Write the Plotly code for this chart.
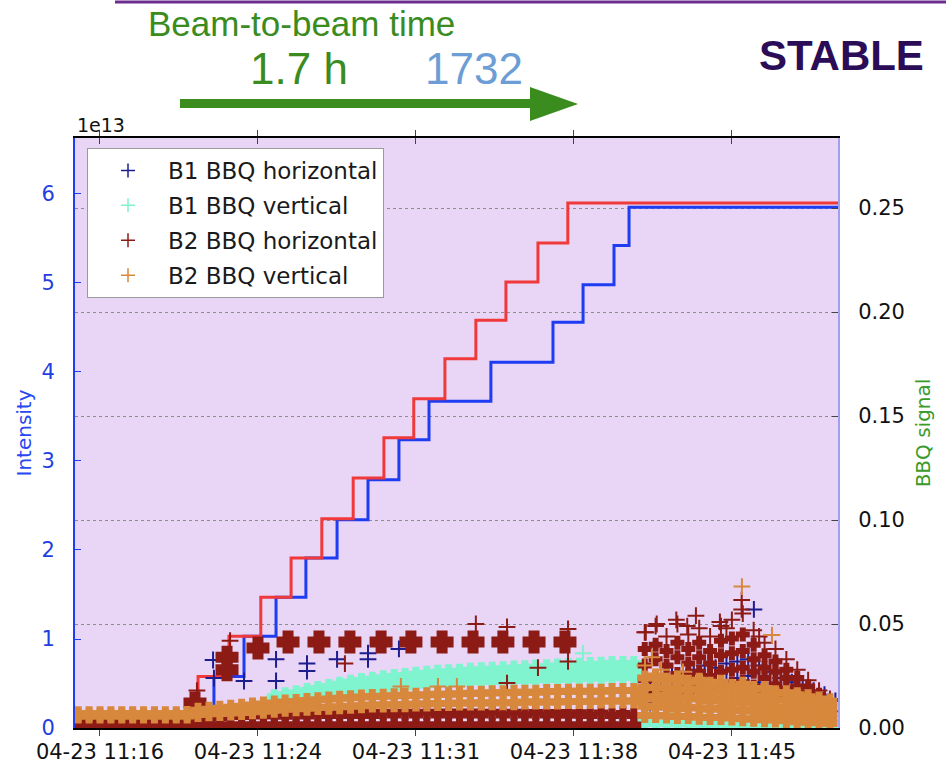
import pandas as pd
import plotly.graph_objects as go

BASE = pd.Timestamp("2016-04-23 11:00:00")


def T(minutes):
    """minutes after 11:00 -> timestamps"""
    return [BASE + pd.Timedelta(minutes=m) for m in minutes]


# ---------------- beam intensity (units of 1e13 protons) ----------------
b2_int_min = [15.60, 21.25, 22.67, 24.13, 25.52, 26.93, 28.37, 29.78, 31.15, 32.58,
              34.00, 35.38, 36.85, 38.22, 50.62]
b2_int_val = [0.00, 0.58, 1.03, 1.47, 1.91, 2.35, 2.81, 3.26, 3.70, 4.15,
              4.58, 5.01, 5.45, 5.90, 5.90]
b1_int_min = [15.60, 21.98, 23.36, 24.83, 26.20, 27.63, 29.05, 30.47, 31.85, 34.69,
              37.54, 38.92, 40.34, 41.03, 50.62]
b1_int_val = [0.00, 0.58, 1.03, 1.47, 1.91, 2.34, 2.79, 3.24, 3.67, 4.11,
              4.56, 4.98, 5.42, 5.85, 5.85]

# ---------------- BBQ signal: sampling grid (minutes after 11:00) ----------------
G = [15.75, 16.25, 16.75, 17.25, 17.75, 18.25, 18.75, 19.25, 19.75, 20.25,
     20.75, 21.25, 21.75, 22.25, 22.75, 23.25, 23.75, 24.25, 24.75, 25.25,
     25.75, 26.25, 26.75, 27.25, 27.75, 28.25, 28.75, 29.25, 29.75, 30.25,
     30.75, 31.25, 31.75, 32.25, 32.75, 33.25, 33.75, 34.25, 34.75, 35.25,
     35.75, 36.25, 36.75, 37.25, 37.75, 38.25, 38.75, 39.25, 39.75, 40.25,
     40.75, 41.25, 41.75, 42.25, 42.75, 43.25, 43.75, 44.25, 44.75, 45.25,
     45.75, 46.25, 46.75, 47.25, 47.75, 48.25, 48.75, 49.25, 49.75, 50.25]
G_BEFORE = G[:52]
G_AQUA = G[18:52]
G_AQUA_MID = G[24:52]
G_AFTER = G[52:]

# B2 BBQ vertical (orange)
b2v_lo = [0.0058, 0.0058, 0.0058, 0.0058, 0.0058, 0.0058, 0.0058, 0.0058, 0.0058, 0.0058,
          0.0058, 0.0065, 0.0068, 0.0070, 0.0072, 0.0075, 0.0078, 0.0080, 0.0085, 0.0090,
          0.0092, 0.0095, 0.0098, 0.0100, 0.0102, 0.0105, 0.0107, 0.0110, 0.0110, 0.0112,
          0.0112, 0.0115, 0.0115, 0.0118, 0.0118, 0.0120, 0.0120, 0.0120, 0.0122, 0.0122,
          0.0122, 0.0125, 0.0125, 0.0125, 0.0125, 0.0128, 0.0128, 0.0128, 0.0130, 0.0130,
          0.0130, 0.0130, 0.0060, 0.0060, 0.0058, 0.0055, 0.0055, 0.0052, 0.0050, 0.0050,
          0.0048, 0.0045, 0.0042, 0.0040, 0.0038, 0.0035, 0.0030, 0.0028, 0.0025, 0.0022]
b2v_hi = [0.0068, 0.0068, 0.0068, 0.0068, 0.0068, 0.0068, 0.0068, 0.0068, 0.0068, 0.0068,
          0.0070, 0.0085, 0.0090, 0.0095, 0.0100, 0.0105, 0.0110, 0.0115, 0.0120, 0.0125,
          0.0128, 0.0132, 0.0136, 0.0140, 0.0143, 0.0146, 0.0149, 0.0151, 0.0153, 0.0155,
          0.0157, 0.0158, 0.0160, 0.0162, 0.0162, 0.0165, 0.0167, 0.0167, 0.0170, 0.0170,
          0.0172, 0.0172, 0.0172, 0.0175, 0.0175, 0.0177, 0.0177, 0.0177, 0.0177, 0.0180,
          0.0180, 0.0180, 0.0240, 0.0250, 0.0230, 0.0240, 0.0220, 0.0230, 0.0210, 0.0220,
          0.0200, 0.0210, 0.0190, 0.0190, 0.0170, 0.0170, 0.0160, 0.0150, 0.0140, 0.0130]
b2v_after_a = [0.0195, 0.0195, 0.0195, 0.0185, 0.0185, 0.0185, 0.0170, 0.0180, 0.0160,
               0.0170, 0.0155, 0.0150, 0.0135, 0.0135, 0.0125, 0.0120, 0.0110, 0.0100]
b2v_after_b = [0.0150, 0.0140, 0.0160, 0.0130, 0.0150, 0.0140, 0.0130, 0.0140, 0.0120,
               0.0130, 0.0120, 0.0110, 0.0100, 0.0100, 0.0090, 0.0090, 0.0080, 0.0070]
b2v_after_c = [0.0105, 0.0100, 0.0110, 0.0092, 0.0100, 0.0096, 0.0090, 0.0095, 0.0084,
               0.0088, 0.0081, 0.0075, 0.0069, 0.0068, 0.0060, 0.0059, 0.0052, 0.0046]
b2v_pts_min = [30.56, 32.26, 33.13, 41.76, 42.08, 42.50, 43.50, 46.21, 47.59]
b2v_pts_val = [0.020, 0.020, 0.020, 0.030, 0.034, 0.028, 0.027, 0.068, 0.0447]

# B1 BBQ vertical (aquamarine)
b1v_lo = [0.0140, 0.0145, 0.0150, 0.0155, 0.0160, 0.0165, 0.0170, 0.0175, 0.0180, 0.0185,
          0.0190, 0.0195, 0.0200, 0.0205, 0.0210, 0.0213, 0.0216, 0.0220, 0.0222, 0.0224,
          0.0225, 0.0227, 0.0228, 0.0230, 0.0232, 0.0234, 0.0235, 0.0236, 0.0238, 0.0240,
          0.0241, 0.0242, 0.0243, 0.0244]
b1v_hi = [0.0150, 0.0160, 0.0170, 0.0180, 0.0190, 0.0200, 0.0210, 0.0220, 0.0228, 0.0235,
          0.0242, 0.0248, 0.0253, 0.0258, 0.0263, 0.0268, 0.0270, 0.0273, 0.0278, 0.0280,
          0.0283, 0.0285, 0.0288, 0.0290, 0.0293, 0.0295, 0.0298, 0.0300, 0.0302, 0.0305,
          0.0307, 0.0310, 0.0310, 0.0310]
b1v_mid = [0.0185, 0.0192, 0.0200, 0.0207, 0.0214, 0.0220, 0.0226, 0.0231, 0.0236, 0.0240,
           0.0243, 0.0246, 0.0250, 0.0252, 0.0254, 0.0256, 0.0258, 0.0260, 0.0262, 0.0264,
           0.0266, 0.0268, 0.0270, 0.0271, 0.0272, 0.0274, 0.0276, 0.0277]
b1v_after_lo = [0.0022, 0.0022, 0.0020, 0.0020, 0.0020, 0.0018, 0.0018, 0.0018, 0.0016,
                0.0016, 0.0015, 0.0015, 0.0014, 0.0014, 0.0013, 0.0013, 0.0012, 0.0012]
b1v_after_hi = [0.0055, 0.0060, 0.0058, 0.0055, 0.0052, 0.0050, 0.0048, 0.0046, 0.0044,
                0.0042, 0.0040, 0.0037, 0.0034, 0.0032, 0.0030, 0.0028, 0.0026, 0.0024]
b1v_pts_min = [38.92]
b1v_pts_val = [0.036]

# B2 BBQ horizontal (dark red)
b2h_base_lo = [0.0015, 0.0015, 0.0015, 0.0015, 0.0015, 0.0015, 0.0015, 0.0015, 0.0015, 0.0015,
               0.0015, 0.0015, 0.0015, 0.0015, 0.0015, 0.0015, 0.0015, 0.0015, 0.0015, 0.0015,
               0.0015, 0.0015, 0.0015, 0.0015, 0.0015, 0.0015, 0.0015, 0.0015, 0.0015, 0.0015,
               0.0015, 0.0015, 0.0015, 0.0015, 0.0015, 0.0015, 0.0015, 0.0015, 0.0015, 0.0015,
               0.0015, 0.0015, 0.0015, 0.0015, 0.0015, 0.0015, 0.0015, 0.0015, 0.0015, 0.0015,
               0.0015, 0.0015]
b2h_base_hi = [0.0030, 0.0030, 0.0030, 0.0030, 0.0030, 0.0030, 0.0030, 0.0030, 0.0030, 0.0030,
               0.0030, 0.0045, 0.0060, 0.0050, 0.0062, 0.0055, 0.0065, 0.0058, 0.0066, 0.0056,
               0.0068, 0.0058, 0.0070, 0.0060, 0.0072, 0.0060, 0.0074, 0.0060, 0.0075, 0.0062,
               0.0076, 0.0062, 0.0076, 0.0062, 0.0077, 0.0063, 0.0077, 0.0063, 0.0076, 0.0062,
               0.0076, 0.0062, 0.0075, 0.0062, 0.0074, 0.0061, 0.0073, 0.0060, 0.0072, 0.0060,
               0.0070, 0.0060]
b2h_after_1 = [0.046, 0.049, 0.044, 0.050, 0.045, 0.048, 0.044, 0.049, 0.052,
               0.055, 0.047, 0.041, 0.038, 0.033, 0.028, 0.023, 0.018, 0.014]
b2h_after_2 = [0.038, 0.040, 0.037, 0.041, 0.038, 0.041, 0.037, 0.042, 0.043,
               0.045, 0.040, 0.035, 0.032, 0.028, 0.024, 0.020, 0.016, 0.012]
b2h_after_3 = [0.030, 0.033, 0.030, 0.034, 0.031, 0.034, 0.031, 0.035, 0.036,
               0.037, 0.033, 0.029, 0.027, 0.024, 0.020, 0.017, 0.014, 0.011]
b2h_after_4 = [0.023, 0.025, 0.024, 0.026, 0.025, 0.027, 0.025, 0.027, 0.028,
               0.029, 0.027, 0.024, 0.021, 0.019, 0.016, 0.013, 0.011, 0.009]
b2h_after_5 = [0.016, 0.018, 0.017, 0.019, 0.018, 0.020, 0.018, 0.020, 0.021,
               0.022, 0.020, 0.018, 0.016, 0.014, 0.012, 0.010, 0.009, 0.008]
b2h_burst_min = [21.11, 22.58, 22.58, 24.00, 25.38, 26.80, 28.22, 29.65, 31.02, 32.45,
                 33.87, 35.24, 36.67, 38.09]
b2h_burst_val = [0.012, 0.028, 0.034, 0.0385, 0.0413, 0.0413, 0.0413, 0.0413, 0.0413, 0.0413,
                 0.0413, 0.0413, 0.0413, 0.0413]
b2h_pts_min = [21.20, 22.72, 27.99, 34.00, 35.43, 35.43, 36.85, 38.23, 38.23, 41.80,
               42.30, 43.20, 43.70, 44.10, 45.20, 45.50, 46.20, 46.20, 47.00]
b2h_pts_val = [0.018, 0.042, 0.031, 0.050, 0.0486, 0.0216, 0.029, 0.0476, 0.032, 0.046,
               0.050, 0.052, 0.049, 0.054, 0.051, 0.048, 0.057, 0.0615, 0.044]

# B1 BBQ horizontal (navy)
b1h_pts_min = [21.94, 21.98, 23.36, 24.83, 24.83, 26.25, 26.25, 27.63, 29.05, 29.05,
               30.47, 46.76]
b1h_pts_val = [0.0327, 0.024, 0.0226, 0.033, 0.0226, 0.031, 0.0274, 0.033, 0.036, 0.033,
               0.038, 0.057]
b1h_cloud_min = [42.0, 42.5, 43.0, 43.5, 44.0, 44.5, 45.0, 45.5, 46.0, 46.5,
                 47.0, 47.5, 48.0, 48.5, 49.0, 49.5, 50.0, 50.5]
b1h_cloud_a = [0.022, 0.024, 0.025, 0.027, 0.028, 0.030, 0.029, 0.031, 0.032,
               0.033, 0.030, 0.027, 0.024, 0.022, 0.020, 0.018, 0.016, 0.013]
b1h_cloud_b = [0.012, 0.014, 0.016, 0.018, 0.020, 0.022, 0.021, 0.023, 0.024,
               0.025, 0.022, 0.020, 0.018, 0.016, 0.014, 0.012, 0.010, 0.008]

tick_min = [16.75, 24.0, 31.25, 38.5, 45.75]
tick_labels = ["04-23 11:16", "04-23 11:24", "04-23 11:31", "04-23 11:38", "04-23 11:45"]
bbq_ticks = [0.0, 0.05, 0.10, 0.15, 0.20, 0.25]
int_ticks = [0, 1, 2, 3, 4, 5, 6]

series_names = ["B1 BBQ horizontal", "B1 BBQ vertical", "B2 BBQ horizontal", "B2 BBQ vertical"]
series_colors = ["#1d1d8e", "#80f3cf", "#8d1b15", "#d8883c"]

# ---------------- assembly ----------------
STYLE = {"band": ("cross", 10, 3), "dense": ("cross", 10, 2),
         "pt": ("cross-thin", 12, 2), "burst": ("cross", 15, 5)}


def build(parts):
    xs, ys, sy, sz, lw = [], [], [], [], []
    for mins, vals, kind in parts:
        s, z, w = STYLE[kind]
        for m, v in zip(mins, vals):
            xs.append(m)
            ys.append(v)
            sy.append(s)
            sz.append(z)
            lw.append(w)
    return T(xs), ys, sy, sz, lw


series_parts = [
    [(b1h_cloud_min, b1h_cloud_a, "pt"), (b1h_cloud_min, b1h_cloud_b, "pt"),
     (b1h_pts_min, b1h_pts_val, "pt")],
    [(G_AQUA, b1v_lo, "band"), (G_AQUA, b1v_hi, "band"), (G_AQUA_MID, b1v_mid, "band"),
     (G_AFTER, b1v_after_lo, "band"), (G_AFTER, b1v_after_hi, "band"),
     (b1v_pts_min, b1v_pts_val, "pt")],
    [(G_BEFORE, b2h_base_lo, "band"), (G_BEFORE, b2h_base_hi, "band"),
     (G_AFTER, b2h_after_1, "pt"), (G_AFTER, b2h_after_2, "dense"),
     (G_AFTER, b2h_after_3, "dense"), (G_AFTER, b2h_after_4, "dense"),
     (G_AFTER, b2h_after_5, "dense"),
     (b2h_burst_min, b2h_burst_val, "burst"), (b2h_pts_min, b2h_pts_val, "pt")],
    [(G, b2v_lo, "band"), (G, b2v_hi, "band"), (G_AFTER, b2v_after_a, "band"),
     (G_AFTER, b2v_after_b, "band"), (G_AFTER, b2v_after_c, "band"),
     (b2v_pts_min, b2v_pts_val, "pt")],
]

fig = go.Figure()

fig.add_trace(go.Scatter(x=T(b1_int_min), y=b1_int_val, mode="lines", line_shape="hv",
                         line=dict(color="#1e3cf2", width=3), showlegend=False, yaxis="y"))
fig.add_trace(go.Scatter(x=T(b2_int_min), y=b2_int_val, mode="lines", line_shape="hv",
                         line=dict(color="#f0393a", width=3), showlegend=False, yaxis="y"))

for name, color, parts in zip(series_names, series_colors, series_parts):
    x, y, sy, sz, lw = build(parts)
    fig.add_trace(go.Scatter(
        x=x, y=y, mode="markers", yaxis="y2", showlegend=False, name=name,
        marker=dict(symbol=sy, size=sz, color=color, opacity=1,
                    line=dict(color=color, width=lw))))

for name, color in zip(series_names, series_colors):
    fig.add_trace(go.Scatter(
        x=[None], y=[None], mode="markers", yaxis="y2", name=name, legendgroup=name,
        marker=dict(symbol="cross-thin", size=10, color=color, opacity=1,
                    line=dict(color=color, width=1.5))))


def xp(px):
    return (px - 75) / 763.0


def yp(py):
    return (728 - py) / 590.0


GREEN = "#3b8c1e"
shapes = [
    dict(type="line", xref="paper", yref="paper", x0=xp(115), x1=xp(946), y0=yp(2), y1=yp(2),
         line=dict(color="#6a2c8e", width=3)),
    dict(type="rect", xref="paper", yref="paper", x0=xp(180), x1=xp(534), y0=yp(108), y1=yp(99),
         fillcolor=GREEN, line=dict(width=0)),
    dict(type="path", xref="paper", yref="paper",
         path=f"M {xp(530)},{yp(87)} L {xp(578)},{yp(104)} L {xp(530)},{yp(121)} Z",
         fillcolor=GREEN, line=dict(width=0)),
]

annotations = [
    dict(text="Beam-to-beam time", x=xp(146), y=yp(23), xref="paper", yref="paper",
         xanchor="left", yanchor="middle", showarrow=False,
         font=dict(family="Liberation Sans", size=35, color=GREEN)),
    dict(text="1.7 h", x=xp(248), y=yp(68), xref="paper", yref="paper",
         xanchor="left", yanchor="middle", showarrow=False,
         font=dict(family="Liberation Sans", size=44, color=GREEN)),
    dict(text="1732", x=xp(423), y=yp(68), xref="paper", yref="paper",
         xanchor="left", yanchor="middle", showarrow=False,
         font=dict(family="Liberation Sans", size=44, color="#6c9dd4")),
    dict(text="<b>STABLE</b>", x=xp(757), y=yp(56), xref="paper", yref="paper",
         xanchor="left", yanchor="middle", showarrow=False,
         font=dict(family="Liberation Sans", size=42, color="#2b0c57")),
    dict(text="1e13", x=0, y=1, xref="paper", yref="paper", xanchor="left", yanchor="bottom",
         showarrow=False, font=dict(family="DejaVu Sans", size=19, color="#111")),
]

fig.update_layout(
    width=946, height=768,
    margin=dict(l=75, r=108, t=138, b=40),
    paper_bgcolor="white", plot_bgcolor="#e9d6f7",
    font=dict(family="DejaVu Sans", size=21, color="#111"),
    shapes=shapes, annotations=annotations,
    legend=dict(x=xp(87), y=yp(148), xanchor="left", yanchor="top", bgcolor="white",
                bordercolor="#9a9a9a", borderwidth=1, tracegroupgap=2, traceorder="grouped",
                itemwidth=70, font=dict(family="DejaVu Sans", size=23, color="#1a1a1a")),
    xaxis=dict(type="date", range=T([15.603, 50.62]), tickvals=T(tick_min), ticktext=tick_labels,
               ticks="inside", ticklen=6, mirror="allticks", showline=True, linecolor="black",
               linewidth=1.5, showgrid=False, zeroline=False, layer="below traces",
               automargin=False, ticklabelstandoff=4,
               tickfont=dict(size=21, color="#111")),
    yaxis=dict(range=[0, 6.629], tickvals=int_ticks, ticks="inside", ticklen=6, tickcolor="#1f3df5",
               showline=True, linecolor="#1f3df5", linewidth=2, showgrid=False, zeroline=False,
               automargin=False,
               tickfont=dict(size=21, color="#1f3fe0"), ticklabelstandoff=14,
               title=dict(text="Intensity", font=dict(size=20, color="#2848f0"), standoff=4)),
    yaxis2=dict(overlaying="y", side="right", range=[0, 0.2837], tickvals=bbq_ticks,
                ticktext=["%.2f" % v for v in bbq_ticks], ticks="inside", ticklen=6,
                showline=True, linecolor="#a0a0f0", linewidth=2, showgrid=True,
                gridcolor="#8c8c8c", griddash="dot", gridwidth=1, zeroline=False,
                automargin=False,
                tickfont=dict(size=21, color="#111"), ticklabelstandoff=14,
                title=dict(text="BBQ signal", font=dict(size=20, color="#3a9a2a"), standoff=12)),
)

fig.write_html("out.html", config={"displayModeBar": False},
               post_script="document.body.style.margin='0px';")
